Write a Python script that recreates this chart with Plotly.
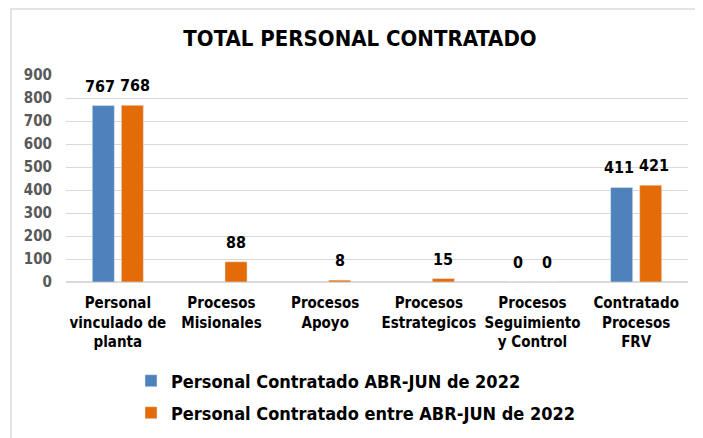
import plotly.graph_objects as go

categories = ["Personal<br>vinculado de<br>planta", "Procesos<br>Misionales", "Procesos<br>Apoyo",
              "Procesos<br>Estrategicos", "Procesos<br>Seguimiento<br>y Control", "Contratado<br>Procesos<br>FRV"]
serie1_name = "Personal Contratado ABR-JUN de 2022"
serie2_name = "Personal Contratado entre ABR-JUN de 2022"
serie1 = [767, None, None, None, 0, 411]
serie2 = [768, 88, 8, 15, 0, 421]
y_ticks = [0, 100, 200, 300, 400, 500, 600, 700, 800, 900]

FONT = "Tahoma, 'DejaVu Sans Condensed', 'DejaVu Sans', sans-serif"
OFF = 8  # page body margin
W, H = 703 - OFF, 438 - OFF
L, T = 66 - OFF, 75 - OFF
R = W - (688 - OFF)
B = H - (282 - OFF)

fig = go.Figure()
fig.add_trace(go.Bar(x=categories, y=serie1, name=serie1_name, marker_color="#4f81bd",
                     legend="legend", showlegend=True))
fig.add_trace(go.Bar(x=categories, y=serie2, name=serie2_name, marker_color="#e36c09",
                     legend="legend2", showlegend=True))

pw, ph = W - L - R, H - T - B
BARGAP, GROUPGAP = 0.44, 0.24
slot = pw / len(categories) * (1 - BARGAP) / 2  # px per bar slot

annotations = []
for vals, other, sign in ((serie1, serie2, -1), (serie2, serie1, 1)):
    for cat, v, o in zip(categories, vals, other):
        if v is None:
            continue
        extra = 3 if (o is not None and (v >= 100 or o >= 100)) else 0
        annotations.append(dict(x=cat, y=v, xref="x", yref="y", text=f"<b>{v}</b>", showarrow=False,
                                yanchor="bottom", yshift=8, xshift=sign * (slot / 2 + extra),
                                font=dict(family=FONT, size=16, color="black")))

legend_font = dict(family=FONT, size=18, color="black", weight="bold")

fig.update_layout(
    width=W, height=H,
    showlegend=True,
    paper_bgcolor="white", plot_bgcolor="white",
    font=dict(family=FONT, color="black"),
    margin=dict(l=L, r=R, t=T, b=B, autoexpand=False),
    barmode="group", bargap=BARGAP, bargroupgap=GROUPGAP,
    title=dict(text="<b>TOTAL PERSONAL CONTRATADO</b>", xref="container", x=(360 - OFF) / W,
               xanchor="center", y=1 - (38 - OFF) / H, yanchor="middle", yref="container",
               font=dict(family=FONT, size=22, color="black")),
    yaxis=dict(range=[0, 900], tickvals=y_ticks, showgrid=True, gridcolor="#d9d9d9", gridwidth=1,
               zeroline=True, zerolinecolor="#d9d9d9", ticks="", ticklabelstandoff=13,
               automargin=False,
               tickfont=dict(family=FONT, size=15, color="#595959", weight="bold"), fixedrange=True),
    xaxis=dict(tickfont=dict(family=FONT, size=15, color="black", weight="bold"), ticks="",
               showline=False, tickangle=0, automargin=False, ticklabelstandoff=10),
    legend=dict(orientation="v", xref="container", yref="container", x=(131 - OFF) / W, xanchor="left",
                y=1 - (381 - OFF) / H, yanchor="middle", font=legend_font, itemwidth=30,
                bgcolor="rgba(0,0,0,0)"),
    legend2=dict(orientation="v", xref="container", yref="container", x=(131 - OFF) / W, xanchor="left",
                 y=1 - (413 - OFF) / H, yanchor="middle", font=legend_font, itemwidth=30,
                 bgcolor="rgba(0,0,0,0)"),
    annotations=annotations,
    shapes=[dict(type="rect", xref="paper", yref="paper",
                 x0=(11 - OFF - L) / pw, x1=(W + 20 - L) / pw,
                 y0=(H - B - (H + 20)) / ph, y1=(H - B - 1) / ph,
                 line=dict(color="#e3e3e3", width=2), fillcolor="rgba(0,0,0,0)", layer="below")],
)

fig.write_html("out.html")
